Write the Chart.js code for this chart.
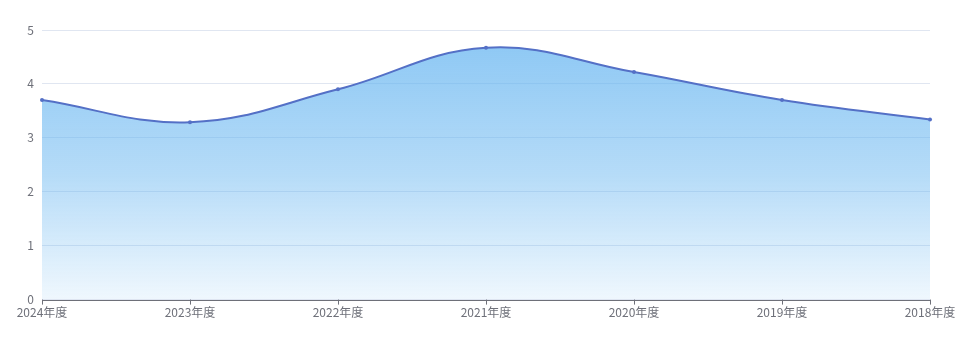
<!DOCTYPE html>
<html>
<head>
<meta charset="utf-8">
<script src="https://cdn.jsdelivr.net/npm/chart.js@4"></script>
<style>
  html, body { margin:0; padding:0; background:#fff; }
  #wrap { width:960px; height:339px; position:relative; }
</style>
</head>
<body>
<div id="wrap"><canvas id="lineChart"></canvas></div>
<script>
const years = ["2024年度","2023年度","2022年度","2021年度","2020年度","2019年度","2018年度"];
const scores = [3.70, 3.29, 3.90, 4.67, 4.22, 3.70, 3.34];
const yTicks = [0, 1, 2, 3, 4, 5];

const font = "'Noto Sans CJK SC', 'Noto Sans', sans-serif";

new Chart(document.getElementById("lineChart"), {
    type:"line",
    data:{
        labels:years,
        datasets:[{
            data:scores,
            borderColor:"#5470c6",
            borderWidth:2,
            pointRadius:2,
            pointBackgroundColor:"#5470c6",
            pointBorderWidth:0,
            tension:0.4,
            fill:true,
            backgroundColor:(ctx)=>{
                const area = ctx.chart.chartArea;
                if(!area) return "rgba(100,180,240,0.5)";
                const g = ctx.chart.ctx.createLinearGradient(0, area.top + 17, 0, area.bottom);
                g.addColorStop(0, "rgba(100,180,240,0.72)");
                g.addColorStop(0.5, "rgba(100,180,240,0.48)");
                g.addColorStop(1, "rgba(100,180,240,0.1)");
                return g;
            }
        }]
    },
    options:{
        responsive:true,
        maintainAspectRatio:false,
        animation:false,
        layout:{ padding:{ top:30, right:30, left:0, bottom:13 } },
        plugins:{ legend:{ display:false }, tooltip:{ enabled:false } },
        scales:{
            x:{
                offset:false,
                grid:{ display:false, drawTicks:false },
                border:{ display:false },
                afterFit:(s)=>{ s.paddingRight = 0; s.paddingLeft = 0; },
                ticks:{ color:"#6e7079", font:{ family:font, size:12 }, padding:6, maxRotation:0, autoSkip:false }
            },
            y:{
                min:0, max:5,
                afterFit:(s)=>{ s.width = 42; },
                afterBuildTicks:(s)=>{ s.ticks = yTicks.map(v=>({value:v})); },
                grid:{ color:"#e0e6f1", drawTicks:false },
                border:{ display:false },
                ticks:{ color:"#6e7079", font:{ family:font, size:12 }, padding:8 }
            }
        }
    },
    plugins:[{
        id:"xAxisLine",
        afterDatasetsDraw(chart){
            const c = chart.ctx, a = chart.chartArea, x = chart.scales.x;
            c.save();
            c.strokeStyle = "#6e7079";
            c.lineWidth = 1;
            c.beginPath();
            c.moveTo(a.left, Math.round(a.bottom) + 0.5);
            c.lineTo(a.right, Math.round(a.bottom) + 0.5);
            years.forEach((_, i)=>{
                const px = Math.round(x.getPixelForValue(i)) + 0.5;
                c.moveTo(px, a.bottom);
                c.lineTo(px, a.bottom + 5);
            });
            c.stroke();
            c.restore();
        }
    }]
});
</script>
</body>
</html>
